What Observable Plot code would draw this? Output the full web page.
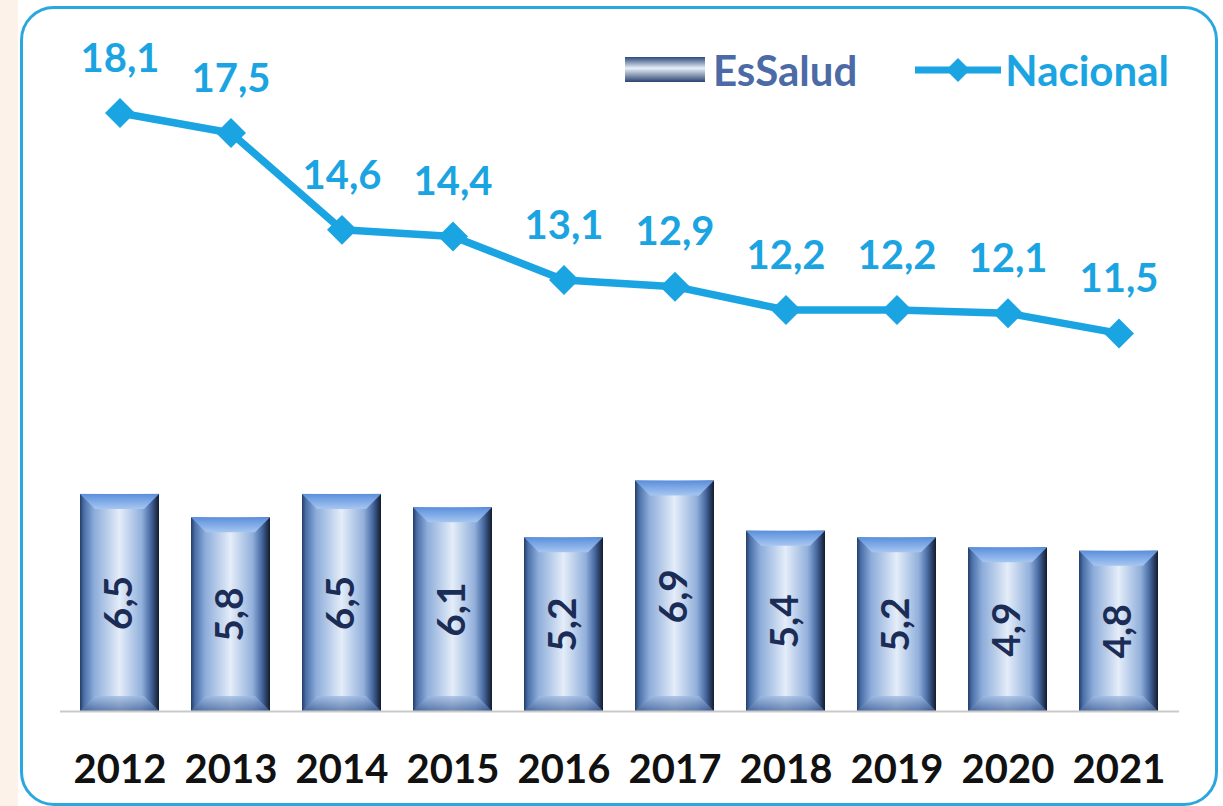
<!DOCTYPE html>
<html><head><meta charset="utf-8">
<script src="https://cdn.jsdelivr.net/npm/d3@7"></script>
<script src="https://cdn.jsdelivr.net/npm/@observablehq/plot@0.6"></script>
<style>
html,body{margin:0;padding:0;background:#fff;}
#wrap{position:relative;width:1223px;height:806px;overflow:hidden;background:#fff;font-family:Lato,"Open Sans",sans-serif;}
#strip{position:absolute;left:0;top:0;width:18px;height:806px;background:#fdf2ea;}
#frame{position:absolute;left:20px;top:6px;width:1198px;height:800px;border:3px solid #2ba7df;border-radius:34px;background:#fff;box-sizing:border-box;}
#chart{position:absolute;left:0;top:0;}
#legend{position:absolute;left:625px;top:45px;display:flex;align-items:center;font-weight:700;font-size:42px;white-space:nowrap;}
#legend .item{display:flex;align-items:center;}
</style></head>
<body>
<div id="wrap">
  <div id="strip"></div>
  <div id="frame"></div>
  <div id="chart"></div>
  <div id="legend"></div>
</div>
<script>
const years = ["2012","2013","2014","2015","2016","2017","2018","2019","2020","2021"];
const essalud = [6.5,5.8,6.5,6.1,5.2,6.9,5.4,5.2,4.9,4.8];
const nacional = [18.1,17.5,14.6,14.4,13.1,12.9,12.2,12.2,12.1,11.5];
const seriesNames = ["EsSalud","Nacional"];

const fmt = v => v.toFixed(1).replace(".", ",");
const data = years.map((y,i)=>({year:y, essalud:essalud[i], nacional:nacional[i]}));

const lineColor = "#1ba4e2";
const labelNavy = "#1b2d57";

function defsMark() {
  const d = d3.create("svg:defs");
  const h = d.append("linearGradient").attr("id","barH").attr("x1","0").attr("x2","1").attr("y1","0").attr("y2","0");
  [["0%","#243d66"],["5%","#4a6fa8"],["18%","#8cacda"],["50%","#e4edf9"],["78%","#92b0db"],["89%","#4a6ca4"],["100%","#121c30"]]
    .forEach(([o,c])=>h.append("stop").attr("offset",o).attr("stop-color",c));
  const t = d.append("linearGradient").attr("id","bevTop").attr("x1","0").attr("x2","0").attr("y1","0").attr("y2","1");
  [["0%","#5a8fdc"],["100%","#a6c6f1"]].forEach(([o,c])=>t.append("stop").attr("offset",o).attr("stop-color",c));
  const b = d.append("linearGradient").attr("id","bevBot").attr("x1","0").attr("x2","0").attr("y1","0").attr("y2","1");
  [["0%","#9fbbe2"],["100%","#46659a"]].forEach(([o,c])=>b.append("stop").attr("offset",o).attr("stop-color",c));
  return d.node();
}

function bevelMark(index, scales) {
  const g = d3.create("svg:g");
  const x = scales.x, y = scales.y;
  const bw = x.bandwidth();
  const s = 15;
  data.forEach(d => {
    const x0 = x(d.year), x1 = x0 + bw;
    const yt = y(d.essalud), yb = y(0);
    g.append("polygon")
      .attr("points", [[x0,yt],[x1,yt],[x1-s,yt+s],[x0+s,yt+s]].map(p=>p.join(",")).join(" "))
      .attr("fill","url(#bevTop)");
    g.append("polygon")
      .attr("points", [[x0,yb],[x1,yb],[x1-s,yb-s],[x0+s,yb-s]].map(p=>p.join(",")).join(" "))
      .attr("fill","url(#bevBot)").attr("opacity",0.75);
  });
  return g.node();
}

const lineShift = 6;

const chart = Plot.plot({
  width: 1223,
  height: 806,
  marginLeft: 60,
  marginRight: 44,
  marginTop: 43,
  marginBottom: 95,
  style: {background: "transparent", fontFamily: "Lato, 'Open Sans', sans-serif", overflow: "visible"},
  x: {domain: years, paddingInner: 0.285, paddingOuter: 0.147, label: null},
  y: {domain: [0, 20], axis: null},
  marks: [
    defsMark,
    Plot.barY(data, {x: "year", y: "essalud", fill: "url(#barH)"}),
    bevelMark,
    Plot.ruleY([0], {stroke: "#c9c9c9", strokeWidth: 2}),
    Plot.text(data, {x: "year", y: d => d.essalud / 2, text: d => fmt(d.essalud), rotate: -90,
      fontSize: 39, fontWeight: "bold", fill: labelNavy}),
    Plot.line(data, {x: "year", y: "nacional", dy: lineShift, stroke: lineColor, strokeWidth: 7.5, strokeLinejoin: "round"}),
    Plot.dot(data, {x: "year", y: "nacional", dy: lineShift, symbol: "diamond2", r: 13.5, fill: lineColor, stroke: "none"}),
    Plot.text(data, {x: "year", y: "nacional", text: d => fmt(d.nacional), dy: lineShift - 54,
      fontSize: 40, fontWeight: "bold", fill: lineColor}),
    Plot.axisX({tickSize: 0, tickPadding: 43, fontSize: 40, fontWeight: "bold", fill: "#111", label: null})
  ]
});
document.getElementById("chart").appendChild(chart);

// legend
const leg = d3.select("#legend");
const i1 = leg.append("div").attr("class","item");
const s1 = i1.append("svg").attr("width",82).attr("height",26).style("margin-right","6px");
const lg = s1.append("defs").append("linearGradient").attr("id","legG").attr("x1","0").attr("x2","0").attr("y1","0").attr("y2","1");
[["0%","#2c4a7a"],["45%","#e8eff9"],["100%","#2a4470"]].forEach(([o,c])=>lg.append("stop").attr("offset",o).attr("stop-color",c));
s1.append("rect").attr("width",80).attr("height",25).attr("fill","url(#legG)");
i1.append("span").style("color","#4b6aa6").text(seriesNames[0]);
const i2 = leg.append("div").attr("class","item").style("margin-left","58px");
const s2 = i2.append("svg").attr("width",88).attr("height",30);
s2.append("line").attr("x1",0).attr("x2",86).attr("y1",15).attr("y2",15).attr("stroke",lineColor).attr("stroke-width",7);
s2.append("polygon").attr("points","43,3 55,15 43,27 31,15").attr("fill",lineColor);
i2.append("span").style("color",lineColor).style("margin-left","2px").text(seriesNames[1]);
</script>
</body></html>
